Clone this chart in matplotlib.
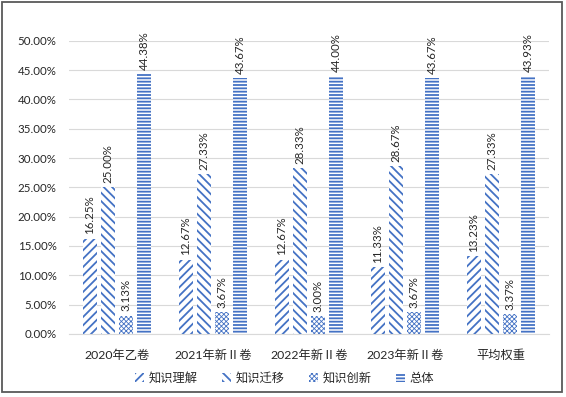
import matplotlib
matplotlib.use("Agg")
import matplotlib.pyplot as plt
from matplotlib.patches import Rectangle
from matplotlib.ticker import PercentFormatter
import numpy as np

plt.rcParams['font.family'] = ['Lato', 'Noto Sans CJK SC', 'DejaVu Sans']
plt.rcParams['hatch.linewidth'] = 1.3

# 数据
categorias = ['2020年乙卷', '2021年新Ⅱ卷', '2022年新Ⅱ卷', '2023年新Ⅱ卷', '平均权重']
series = ['知识理解', '知识迁移', '知识创新', '总体']
zhishi_lijie = [16.25, 12.67, 12.67, 11.33, 13.23]
zhishi_qianyi = [25.00, 27.33, 28.33, 28.67, 27.33]
zhishi_chuangxin = [3.13, 3.67, 3.00, 3.67, 3.37]
zongti = [44.38, 43.67, 44.00, 43.67, 43.93]

valores = [zhishi_lijie, zhishi_qianyi, zhishi_chuangxin, zongti]
hachuras = ['////', '\\\\\\\\', 'xxxxxxx', '-----']
azul = '#4472C4'

fig = plt.figure(figsize=(5.66, 3.97), dpi=100)
ax = fig.add_axes([0.122, 0.159, 0.848, 0.738])

x = np.arange(len(categorias))
passo = 0.19
largura = 0.145

for i, (nome, vals, h) in enumerate(zip(series, valores, hachuras)):
    pos = x + (i - 1.5) * passo
    barras = ax.bar(pos, vals, largura, color='white', edgecolor=azul, linewidth=0,
                    hatch=h, label=nome, zorder=2)
    if h.startswith('x'):
        for b in barras:
            if hasattr(b, 'set_hatch_linewidth'):
                b.set_hatch_linewidth(0.6)
    for xp, v in zip(pos, vals):
        ax.annotate(f'{v:.2f}%', (xp, v), xytext=(0, 3), textcoords='offset points',
                    rotation=90, ha='center', va='bottom', fontsize=8.3,
                    color='#262626', annotation_clip=False)

ax.set_xlim(-0.5, len(categorias) - 0.5)
ax.set_ylim(0, 50)
ax.set_yticks(np.arange(0, 51, 5))
ax.yaxis.set_major_formatter(PercentFormatter(decimals=2))
ax.set_xticks(x)
ax.set_xticklabels(categorias, fontsize=8.8)
ax.tick_params(axis='y', length=0, pad=9, labelsize=8.3, labelcolor='#262626')
ax.tick_params(axis='x', length=0, pad=11, labelcolor='#262626')
ax.grid(axis='y', color='#D9D9D9', linewidth=0.8, zorder=0)
ax.set_axisbelow(True)
for lado in ['top', 'right', 'left']:
    ax.spines[lado].set_visible(False)
ax.spines['bottom'].set_color('#D9D9D9')

leg = fig.legend(loc='center', bbox_to_anchor=(0.503, 0.048), ncol=4, frameon=False,
                 fontsize=8.8, handlelength=0.7, handleheight=0.7, handletextpad=0.4,
                 columnspacing=2.0, labelcolor='#262626')
for p in leg.get_patches():
    if p.get_hatch() and p.get_hatch().startswith('x') and hasattr(p, 'set_hatch_linewidth'):
        p.set_hatch_linewidth(0.6)

# 边框
fig.patches.append(Rectangle((0.003, 0.012), 0.990, 0.984, transform=fig.transFigure,
                             fill=False, edgecolor='#595959', linewidth=1.3))

fig.savefig('out.png', dpi=100)
